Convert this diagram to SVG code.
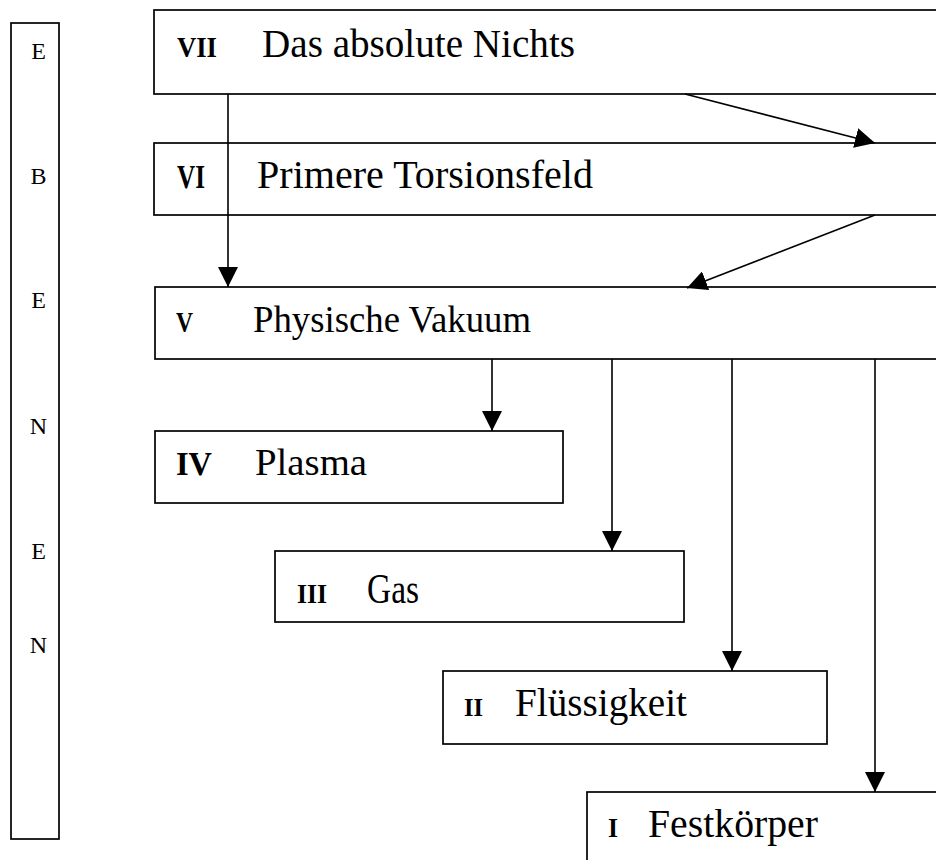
<svg xmlns="http://www.w3.org/2000/svg" width="936" height="860" viewBox="0 0 936 860">
<style>
  .box{fill:#fff;stroke:#000;stroke-width:1.7}
  .conn{stroke:#000;stroke-width:1.6;fill:none;marker-end:url(#ah)}
  .num{font-family:"Liberation Serif",serif;font-weight:bold;fill:#000}
  .lbl{font-family:"Liberation Serif",serif;fill:#000}
  .side{font-family:"Liberation Serif",serif;font-size:24px;fill:#000;text-anchor:middle}
</style>
<defs>
  <marker id="ah" markerUnits="userSpaceOnUse" markerWidth="20" markerHeight="20" refX="20" refY="10" orient="auto">
    <path d="M0,0 L20,10 L0,20 Z" fill="#000"/>
  </marker>
</defs>
<rect width="936" height="860" fill="#fff"/>

<g id="side">
  <rect class="box" x="11" y="23" width="48" height="816"/>
  <text class="side" x="38.5" y="59">E</text>
  <text class="side" x="38.5" y="184">B</text>
  <text class="side" x="38.5" y="308">E</text>
  <text class="side" x="38.5" y="434">N</text>
  <text class="side" x="38.5" y="559">E</text>
  <text class="side" x="38.5" y="653">N</text>
</g>

<g id="n7">
  <rect class="box" x="154" y="10" width="800" height="84"/>
  <text class="num" x="177" y="57" font-size="29" textLength="40" lengthAdjust="spacingAndGlyphs">VII</text>
  <text class="lbl" x="262" y="57" font-size="39" textLength="313" lengthAdjust="spacingAndGlyphs">Das absolute Nichts</text>
</g>

<g id="n6">
  <rect class="box" x="154" y="143" width="800" height="72"/>
  <text class="num" x="177" y="188" font-size="34" textLength="28" lengthAdjust="spacingAndGlyphs">VI</text>
  <text class="lbl" x="257" y="188" font-size="41" textLength="336" lengthAdjust="spacingAndGlyphs">Primere Torsionsfeld</text>
</g>

<g id="n5">
  <rect class="box" x="155" y="287" width="800" height="72"/>
  <text class="num" x="176" y="332" font-size="30" textLength="17" lengthAdjust="spacingAndGlyphs">V</text>
  <text class="lbl" x="253" y="332" font-size="38" textLength="278" lengthAdjust="spacingAndGlyphs">Physische Vakuum</text>
</g>

<g id="n4">
  <rect class="box" x="155" y="431" width="408" height="72"/>
  <text class="num" x="176" y="475" font-size="34" textLength="36" lengthAdjust="spacingAndGlyphs">IV</text>
  <text class="lbl" x="255" y="475" font-size="37" textLength="112" lengthAdjust="spacingAndGlyphs">Plasma</text>
</g>

<g id="n3">
  <rect class="box" x="275" y="551" width="409" height="71"/>
  <text class="num" x="297" y="603" font-size="27" textLength="30" lengthAdjust="spacingAndGlyphs">III</text>
  <text class="lbl" x="367" y="603" font-size="42" textLength="52" lengthAdjust="spacingAndGlyphs">Gas</text>
</g>

<g id="n2">
  <rect class="box" x="443" y="671" width="384" height="73"/>
  <text class="num" x="464" y="716" font-size="25" textLength="19" lengthAdjust="spacingAndGlyphs">II</text>
  <text class="lbl" x="515" y="716" font-size="39" textLength="172" lengthAdjust="spacingAndGlyphs">Flüssigkeit</text>
</g>

<g id="n1">
  <rect class="box" x="587" y="792" width="400" height="120"/>
  <text class="num" x="608" y="837" font-size="28" textLength="10" lengthAdjust="spacingAndGlyphs">I</text>
  <text class="lbl" x="648" y="837" font-size="39" textLength="170" lengthAdjust="spacingAndGlyphs">Festkörper</text>
</g>

<g id="connectors">
  <line class="conn" x1="228" y1="94" x2="228" y2="287"/>
  <line class="conn" x1="685" y1="94" x2="875" y2="143"/>
  <line class="conn" x1="875" y1="215" x2="687" y2="288"/>
  <line class="conn" x1="492" y1="359" x2="492" y2="431"/>
  <line class="conn" x1="612" y1="359" x2="612" y2="551"/>
  <line class="conn" x1="732" y1="359" x2="732" y2="671"/>
  <line class="conn" x1="875" y1="359" x2="875" y2="792"/>
</g>
</svg>
